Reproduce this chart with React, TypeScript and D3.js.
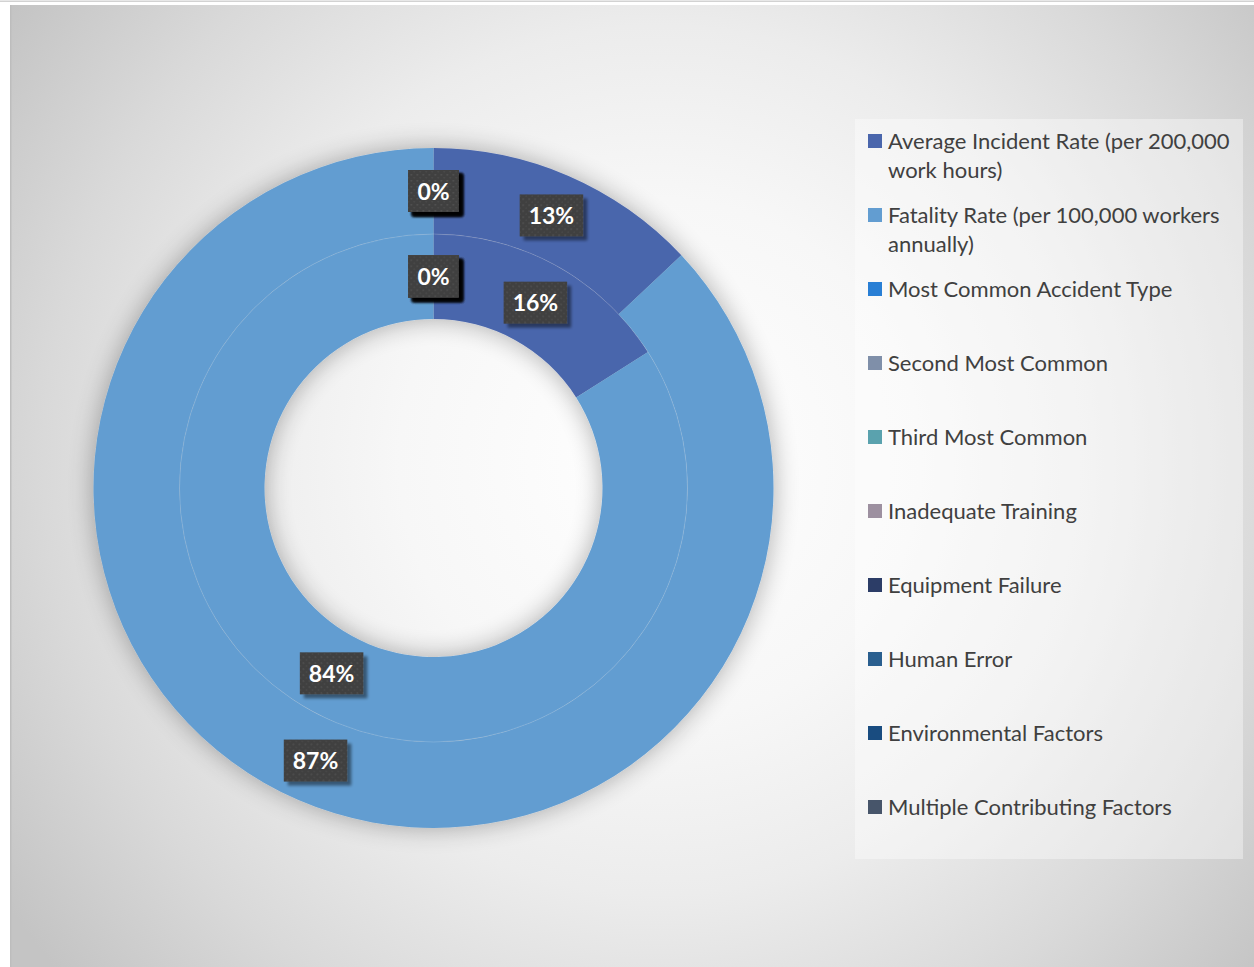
import React, { useEffect, useRef } from 'react';
import * as d3 from 'd3';

const categories = [
  'Average Incident Rate (per 200,000 work hours)',
  'Fatality Rate (per 100,000 workers annually)',
  'Most Common Accident Type',
  'Second Most Common',
  'Third Most Common',
  'Inadequate Training',
  'Equipment Failure',
  'Human Error',
  'Environmental Factors',
  'Multiple Contributing Factors',
];
const outerValues = [13, 87, 0, 0, 0, 0, 0, 0, 0, 0];
const innerValues = [16, 84, 0, 0, 0, 0, 0, 0, 0, 0];
const colors = [
  '#4A66AC', '#629DD1', '#297FD5', '#7F8FA9', '#5AA2AE',
  '#9D90A0', '#2C3D67', '#2A5F8F', '#194C80', '#47556A',
];

const W = 1254;
const H = 967;
const CX = 433.5;
const CY = 488;
const R_HOLE = 169;
const R_MID = 254;
const R_OUT = 340;

export default function App() {
  const ref = useRef<SVGSVGElement>(null);

  useEffect(() => {
    const svg = d3.select(ref.current);
    svg.selectAll('*').remove();
    const defs = svg.append('defs');

    const bg = defs.append('radialGradient').attr('id', 'bg')
      .attr('gradientUnits', 'userSpaceOnUse')
      .attr('cx', 660).attr('cy', 460).attr('r', 790);
    ([[0, '#ffffff'], [0.33, '#f7f7f7'], [0.55, '#ececec'], [0.78, '#d9d9d9'], [1, '#c4c4c4']] as [number, string][])
      .forEach(([o, c]) => bg.append('stop').attr('offset', o).attr('stop-color', c));

    const sh = defs.append('filter').attr('id', 'donutShadow')
      .attr('x', '-25%').attr('y', '-25%').attr('width', '150%').attr('height', '150%');
    sh.append('feGaussianBlur').attr('in', 'SourceAlpha').attr('stdDeviation', 13).attr('result', 'b');
    sh.append('feComponentTransfer').attr('in', 'b').attr('result', 'b2')
      .append('feFuncA').attr('type', 'linear').attr('slope', 0.32);
    const m = sh.append('feMerge');
    m.append('feMergeNode').attr('in', 'b2');
    m.append('feMergeNode').attr('in', 'SourceGraphic');

    const ls = defs.append('filter').attr('id', 'lblShadow')
      .attr('x', '-30%').attr('y', '-30%').attr('width', '160%').attr('height', '160%');
    ls.append('feGaussianBlur').attr('in', 'SourceAlpha').attr('stdDeviation', 1.8).attr('result', 'b');
    ls.append('feOffset').attr('in', 'b').attr('dx', 4).attr('dy', 4).attr('result', 'o');
    ls.append('feComponentTransfer').attr('in', 'o').attr('result', 'o2')
      .append('feFuncA').attr('type', 'linear').attr('slope', 0.45);
    const lm = ls.append('feMerge');
    lm.append('feMergeNode').attr('in', 'o2');
    lm.append('feMergeNode').attr('in', 'SourceGraphic');

    const pat = defs.append('pattern').attr('id', 'dots')
      .attr('patternUnits', 'userSpaceOnUse').attr('width', 6).attr('height', 6);
    pat.append('rect').attr('width', 6).attr('height', 6).attr('fill', '#3f3f3f');
    pat.append('rect').attr('x', 1).attr('y', 1).attr('width', 1.5).attr('height', 1.5).attr('fill', '#555555');
    pat.append('rect').attr('x', 4).attr('y', 4).attr('width', 1.5).attr('height', 1.5).attr('fill', '#4c4c4c');

    // top page line
    svg.append('rect').attr('x', 0).attr('y', 0.5).attr('width', W).attr('height', 1.5).attr('fill', '#d2d2d2');
    // chart area
    svg.append('rect').attr('x', 10).attr('y', 5).attr('width', W - 10).attr('height', H - 5).attr('fill', 'url(#bg)');
    svg.append('rect').attr('x', 10).attr('y', 5).attr('width', 1.5).attr('height', H - 5).attr('fill', '#bdbdbd');

    // legend box
    svg.append('rect').attr('x', 855).attr('y', 119).attr('width', 388).attr('height', 740)
      .attr('fill', '#ffffff').attr('fill-opacity', 0.38);

    const pie = d3.pie<number>().sort(null).value((d) => d);
    const rings = [
      { values: innerValues, r0: R_HOLE, r1: R_MID },
      { values: outerValues, r0: R_MID, r1: R_OUT },
    ];

    const g = svg.append('g').attr('transform', `translate(${CX},${CY})`);
    const donut = g.append('g').attr('filter', 'url(#donutShadow)');
    rings.forEach((ring) => {
      const arc = d3.arc<d3.PieArcDatum<number>>().innerRadius(ring.r0).outerRadius(ring.r1);
      donut.append('g').selectAll('path').data(pie(ring.values)).join('path')
        .attr('d', arc).attr('fill', (_, i) => colors[i]);
    });
    g.append('circle').attr('r', R_MID).attr('fill', 'none')
      .attr('stroke', '#ffffff').attr('stroke-opacity', 0.2).attr('stroke-width', 0.8);

    // labels
    const lblG = g.append('g');
    rings.forEach((ring) => {
      const total = d3.sum(ring.values);
      const arc = d3.arc<d3.PieArcDatum<number>>().innerRadius(ring.r0).outerRadius(ring.r1);
      const arcs = pie(ring.values);
      arcs.forEach((a) => {
        const [x, y] = arc.centroid(a);
        const txt = `${Math.round((a.data / total) * 100)}%`;
        const lg = lblG.append('g').attr('transform', `translate(${x},${y})`);
        const rect = lg.append('rect').attr('fill', 'url(#dots)').attr('filter', 'url(#lblShadow)');
        const t = lg.append('text').attr('text-anchor', 'middle').attr('y', 8.5)
          .attr('font-family', 'Lato, "Open Sans", sans-serif').attr('font-weight', 700)
          .attr('font-size', 23).attr('fill', '#ffffff').text(txt);
        const w = (t.node() as SVGTextElement).getComputedTextLength() + 18;
        rect.attr('x', -w / 2).attr('y', -21).attr('width', w).attr('height', 42);
      });
    });

    // legend
    const leg = svg.append('g');
    const LX = 868;
    const LY = 134;
    const STEP = 74;
    const LINE = 29;
    const MAXW = 350;
    categories.forEach((c, i) => {
      const y0 = LY + i * STEP;
      leg.append('rect').attr('x', LX).attr('y', y0).attr('width', 14).attr('height', 14).attr('fill', colors[i]);
      const text = leg.append('text').attr('x', LX + 20).attr('y', y0 + 15)
        .attr('font-family', 'Lato, "Open Sans", sans-serif').attr('font-size', 22).attr('fill', '#404040');
      const words = c.split(' ');
      let line: string[] = [];
      let lineNo = 0;
      let tspan = text.append('tspan').attr('x', LX + 20).attr('y', y0 + 15);
      words.forEach((w) => {
        line.push(w);
        tspan.text(line.join(' '));
        if ((tspan.node() as SVGTSpanElement).getComputedTextLength() > MAXW && line.length > 1) {
          line.pop();
          tspan.text(line.join(' '));
          line = [w];
          lineNo += 1;
          tspan = text.append('tspan').attr('x', LX + 20).attr('y', y0 + 15 + lineNo * LINE).text(w);
        }
      });
    });
  }, []);

  return (
    <svg ref={ref} width={W} height={H} style={{ position: 'absolute', left: 0, top: 0, display: 'block' }} />
  );
}
